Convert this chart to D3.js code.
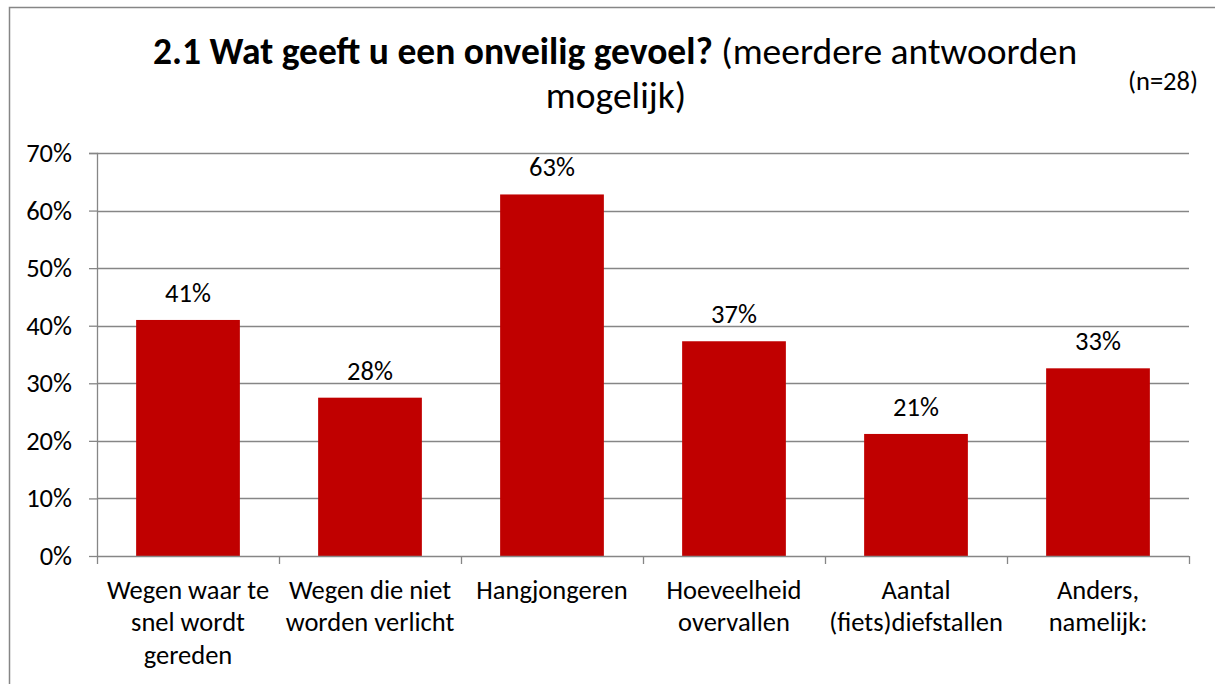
<!DOCTYPE html>
<html>
<head>
<meta charset="utf-8">
<script src="https://cdn.jsdelivr.net/npm/d3@7"></script>
<style>
  html, body { margin: 0; padding: 0; background: #fff; }
  svg { display: block; font-family: Carlito, Lato, sans-serif; }
</style>
</head>
<body>
<svg id="chart" width="1215" height="684"></svg>
<script>
/* 2.1 Wat geeft u een onveilig gevoel? — single series column chart */
var categories = [
  ['Wegen waar te', 'snel wordt', 'gereden'],
  ['Wegen die niet', 'worden verlicht'],
  ['Hangjongeren'],
  ['Hoeveelheid', 'overvallen'],
  ['Aantal', '(fiets)diefstallen'],
  ['Anders,', 'namelijk:']
];
var values = [41.0, 27.5, 62.8, 37.3, 21.2, 32.6];
var yTicks = [0, 10, 20, 30, 40, 50, 60, 70];

var W = 1215, H = 684;
var margin = { top: 153, right: 26, bottom: 128, left: 97 };
var innerW = W - margin.left - margin.right;
var innerH = H - margin.top - margin.bottom;
var gray = '#868686', barColor = '#C00000';
var fs = '26.5px';

var svg = d3.select('#chart');

// outer frame (right and bottom edges run off the picture)
svg.append('rect')
  .attr('x', 9.5).attr('y', 7.5).attr('width', 1220).attr('height', 700)
  .attr('fill', 'none').attr('stroke', gray).attr('stroke-width', 1.5);

// title
var title = svg.append('text')
  .attr('x', 615).attr('y', 64).attr('text-anchor', 'middle')
  .style('font-size', '37.5px').style('fill', '#000');
title.append('tspan').style('font-weight', 'bold').text('2.1 Wat geeft u een onveilig gevoel?');
title.append('tspan').text(' (meerdere antwoorden');
svg.append('text')
  .attr('x', 616).attr('y', 108).attr('text-anchor', 'middle')
  .style('font-size', '37.5px').text('mogelijk)');
svg.append('text')
  .attr('x', 1198).attr('y', 90).attr('text-anchor', 'end')
  .style('font-size', fs).text('(n=28)');

var g = svg.append('g').attr('transform', 'translate(' + margin.left + ',' + margin.top + ')');

var x = d3.scaleBand().domain(d3.range(categories.length)).range([0, innerW])
  .paddingInner(0.43).paddingOuter(0.215);
var xStep = innerW / categories.length;
var y = d3.scaleLinear().domain([0, 70]).range([innerH, 0]);

// gridlines
g.selectAll('.grid').data(yTicks.slice(1)).enter().append('line')
  .attr('x1', 0).attr('x2', innerW)
  .attr('y1', function (d) { return Math.round(y(d)) + 0.5; })
  .attr('y2', function (d) { return Math.round(y(d)) + 0.5; })
  .attr('stroke', gray).attr('stroke-width', 1.3);

// y axis
var yAxis = d3.axisLeft(y).tickValues(yTicks).tickSize(8).tickPadding(17)
  .tickFormat(function (d) { return d + '%'; });
var ya = g.append('g').call(yAxis);
ya.select('.domain').attr('stroke', gray).attr('stroke-width', 1.3).attr('d', 'M-8,0.5H0.5V' + (innerH + 0.5));
ya.selectAll('.tick line').attr('stroke', gray).attr('stroke-width', 1.3);
ya.selectAll('.tick text').style('font-size', fs).style('fill', '#000').style('font-family', 'Carlito, Lato, sans-serif');

// bars
g.selectAll('.bar').data(values).enter().append('rect')
  .attr('x', function (d, i) { return x(i); })
  .attr('y', function (d) { return y(d); })
  .attr('width', x.bandwidth())
  .attr('height', function (d) { return innerH - y(d); })
  .attr('fill', barColor);

// value labels
g.selectAll('.lbl').data(values).enter().append('text')
  .attr('x', function (d, i) { return x(i) + x.bandwidth() / 2; })
  .attr('y', function (d) { return y(d) - 18; })
  .attr('text-anchor', 'middle')
  .style('font-size', fs)
  .text(function (d) { return Math.round(d) + '%'; });

// x axis
var xa = g.append('g').attr('transform', 'translate(0,' + innerH + ')');
xa.append('line').attr('x1', 0).attr('x2', innerW).attr('y1', 0.5).attr('y2', 0.5)
  .attr('stroke', gray).attr('stroke-width', 1.3);
xa.selectAll('.xt').data(d3.range(categories.length + 1)).enter().append('line')
  .attr('x1', function (d) { return Math.round(d * xStep) + 0.5; })
  .attr('x2', function (d) { return Math.round(d * xStep) + 0.5; })
  .attr('y1', 0).attr('y2', 8)
  .attr('stroke', gray).attr('stroke-width', 1.3);
xa.selectAll('.xl').data(categories).enter().append('text')
  .attr('text-anchor', 'middle')
  .attr('transform', function (d, i) { return 'translate(' + (x(i) + x.bandwidth() / 2) + ',43)'; })
  .style('font-size', fs)
  .each(function (lines) {
    var t = d3.select(this);
    lines.forEach(function (s, k) {
      t.append('tspan').attr('x', 0).attr('y', k * 32.3).text(s);
    });
  });
</script>
</body>
</html>
